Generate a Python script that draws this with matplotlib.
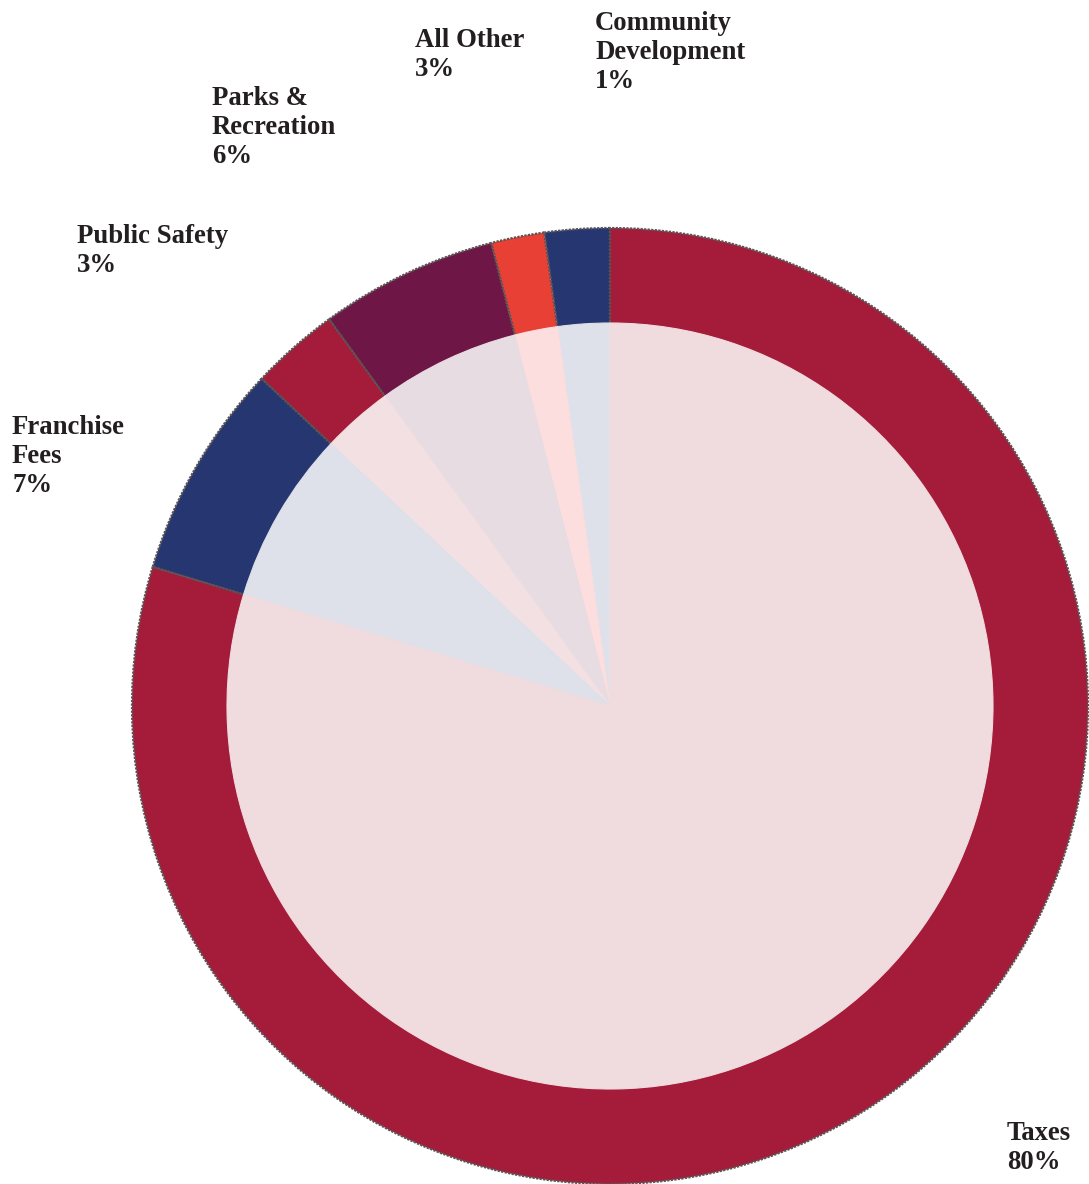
import matplotlib
matplotlib.use("Agg")
from matplotlib import pyplot as plt

# slices counter-clockwise from 12 o'clock
labels = ["Community\nDevelopment", "All Other", "Parks &\nRecreation",
          "Public Safety", "Franchise\nFees", "Taxes"]
shares = [2.2, 1.8, 6.0, 3.0, 7.3, 79.7]
pct_text = ["1%", "3%", "6%", "3%", "7%", "80%"]

ring_colors = ["#263670", "#E84035", "#6E1646", "#A51C3A", "#263670", "#A51C3A"]
fill_colors = ["#DEE1EA", "#FDDEDE", "#E8DCE3", "#F3E0E2", "#DEE1EA", "#F0DCDF"]

# label anchor (top-left) in pixels
label_pos = [(595, 11), (415, 28), (212, 86), (77, 224), (12, 415), (1007, 1121)]

W, H = 1089, 1184
fig = plt.figure(figsize=(W / 100, H / 100), dpi=100)
ax = fig.add_axes([0, 0, 1, 1])

cx, cy = 610, H - 706
R_out, R_in = 478, 383

ax.pie(shares, colors=ring_colors, startangle=90, counterclock=True,
       radius=R_out, center=(cx, cy),
       wedgeprops=dict(edgecolor="#5a5555", linewidth=1.6, linestyle=(0, (1, 0.6))))
wedges, _ = ax.pie(shares, colors=fill_colors, startangle=90, counterclock=True,
                   radius=R_in, center=(cx, cy))
for w in wedges:
    w.set_edgecolor(w.get_facecolor())
    w.set_linewidth(0.8)

ax.set_xlim(0, W)
ax.set_ylim(0, H)
ax.set_aspect("equal")
ax.axis("off")

for lab, p, (x, y) in zip(labels, pct_text, label_pos):
    ax.text(x, H - y, lab + "\n" + p, ha="left", va="top",
            fontsize=19.3, fontweight="bold", family="Liberation Serif",
            color="#231f20", linespacing=1.22)

fig.savefig("out.png", dpi=100)
